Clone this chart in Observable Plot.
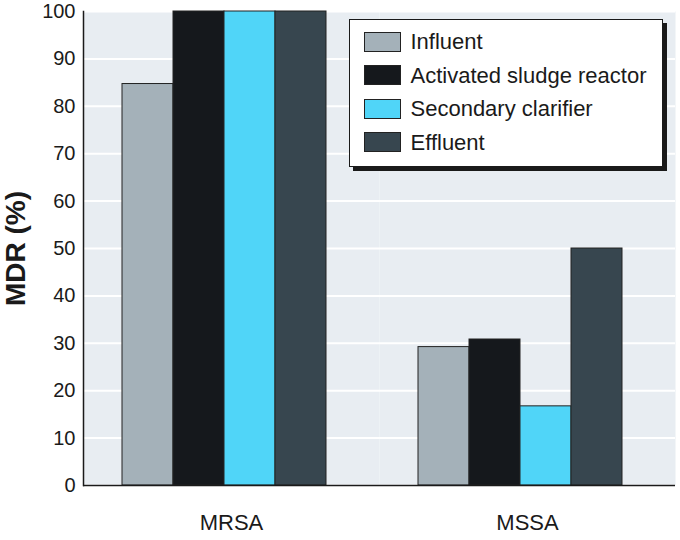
<!DOCTYPE html>
<html>
<head>
<meta charset="utf-8">
<script src="https://cdn.jsdelivr.net/npm/d3@7"></script>
<script src="https://cdn.jsdelivr.net/npm/@observablehq/plot@0.6"></script>
<style>
  html, body { margin: 0; padding: 0; background: #fff; }
  #wrap { position: relative; width: 680px; height: 540px; font-family: "Liberation Sans", Arial, sans-serif; color: #1a1a1a; }
  #wrap svg { display: block; }
  [aria-label="y-axis label"] text { font-size: 28px; font-weight: bold; }
  #legend { position: absolute; left: 349px; top: 19px; width: 314px; height: 148px; box-sizing: border-box;
            background: #fff; border: 1.5px solid #1a1a1a; box-shadow: 4px 4px 0 #1a1a1a; padding-top: 11px; }
  .row { display: flex; align-items: center; height: 21px; margin-bottom: 12.5px; }
  .sw { width: 37px; height: 20px; box-sizing: border-box; border: 1px solid #222; margin-left: 13.5px; margin-right: 10px; }
  .lab { font-size: 22px; line-height: 21px; white-space: nowrap; }
</style>
</head>
<body>
<div id="wrap"></div>
<script>
const groups = ["MRSA", "MSSA"];
const series = ["Influent", "Activated sludge reactor", "Secondary clarifier", "Effluent"];
const mrsaValues = [84.7, 100, 100, 100];
const mssaValues = [29.2, 30.8, 16.7, 50.0];
const colors = ["#a4b1b9", "#15181c", "#50d5f8", "#37464f"];
const yTicks = [0, 10, 20, 30, 40, 50, 60, 70, 80, 90, 100];
const yLabel = "MDR (%)";

const valuesByGroup = [mrsaValues, mssaValues];
const data = groups.flatMap((g, gi) => series.map((s, si) => ({group: g, series: s, value: valuesByGroup[gi][si]})));

const chart = Plot.plot({
  width: 680,
  height: 540,
  marginLeft: 83,
  marginRight: 5,
  marginTop: 11,
  marginBottom: 55,
  style: {fontFamily: "'Liberation Sans', Arial, sans-serif", fontSize: "20px", color: "#1a1a1a", background: "#fff"},
  fx: {domain: groups, padding: 0, label: null, axis: null},
  x: {domain: series, paddingInner: 0, paddingOuter: 0.853, align: 0.426, axis: null},
  y: {domain: [0, 100], axis: null},
  color: {domain: series, range: colors},
  marks: [
    Plot.frame({fill: "#e8edf2"}),
    Plot.gridY(yTicks, {stroke: "#ffffff", strokeOpacity: 1, strokeWidth: 2}),
    Plot.barY(data, {fx: "group", x: "series", y: "value", fill: "series", stroke: "#222", strokeWidth: 1}),
    Plot.ruleY([0], {stroke: "#1a1a1a", strokeWidth: 1.5}),
    Plot.frame({anchor: "left", stroke: "#1a1a1a", strokeWidth: 1.5, facetAnchor: "left"}),
    Plot.axisY(yTicks, {tickSize: 0, tickPadding: 8, fontSize: 20, label: yLabel, labelAnchor: "center", labelArrow: "none", labelOffset: 78}),
    Plot.axisFx({anchor: "bottom", tickSize: 0, tickPadding: 29, fontSize: 22, label: null})
  ]
});

const wrap = document.getElementById("wrap");
wrap.appendChild(chart);

const color = chart.scale("color");
const legend = document.createElement("div");
legend.id = "legend";
series.forEach((s, i) => {
  const row = document.createElement("div");
  row.className = "row";
  const sw = document.createElement("div");
  sw.className = "sw";
  sw.style.background = color.range[i];
  const lab = document.createElement("div");
  lab.className = "lab";
  lab.textContent = s;
  row.appendChild(sw);
  row.appendChild(lab);
  legend.appendChild(row);
});
wrap.appendChild(legend);
</script>
</body>
</html>
